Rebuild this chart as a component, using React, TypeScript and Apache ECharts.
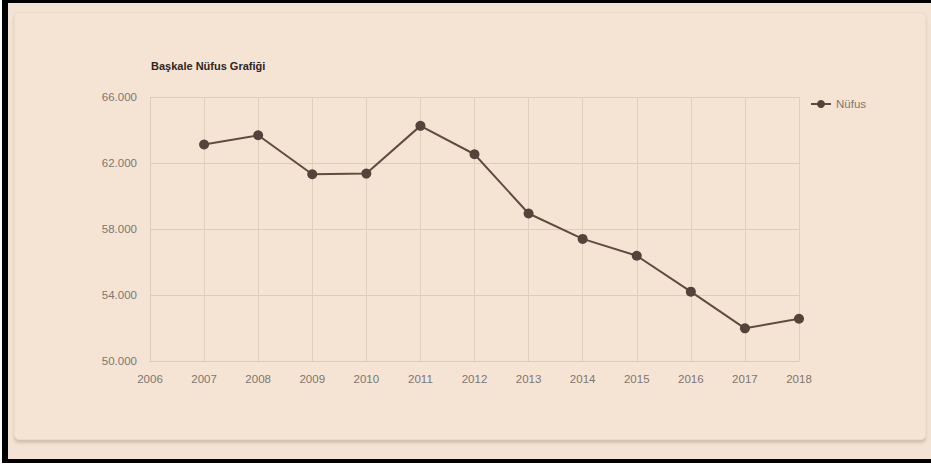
import React, { useEffect, useRef } from "react";
import * as echarts from "echarts";

const title = "Başkale Nüfus Grafiği";
const seriesName = "Nüfus";
const years = [2007, 2008, 2009, 2010, 2011, 2012, 2013, 2014, 2015, 2016, 2017, 2018];
const population = [63120, 63680, 61320, 61360, 64250, 62530, 58940, 57400, 56380, 54200, 51980, 52560];
const yMin = 50000;
const yMax = 66000;
const yStep = 4000;
const xMin = 2006;
const xMax = 2018;

const fmtThousands = (v: number) =>
  String(Math.round(v)).replace(/\B(?=(\d{3})+(?!\d))/g, ".");

export default function App() {
  const ref = useRef<HTMLDivElement>(null);
  useEffect(() => {
    document.body.style.margin = "0";
    if (!ref.current) return;
    const chart = echarts.init(ref.current, undefined, { renderer: "svg" });
    const font = "'Liberation Sans', Arial, sans-serif";
    chart.setOption({
      animation: false,
      title: {
        text: title,
        left: 146,
        top: 55,
        textStyle: { fontSize: 11, fontWeight: "bold", color: "#2e261f", fontFamily: font },
      },
      legend: {
        data: [seriesName],
        left: 805,
        top: 93,
        itemWidth: 20,
        itemHeight: 10,
        itemGap: 5,
        textStyle: { fontSize: 11.5, color: "#7d7670", fontFamily: font },
      },
      grid: { left: 150, right: 132, top: 97, bottom: 105 },
      xAxis: {
        type: "value",
        min: xMin,
        max: xMax,
        interval: 1,
        axisLine: { show: true, lineStyle: { color: "#dccbb8" } },
        axisTick: { show: false },
        splitLine: { show: true, lineStyle: { color: "#e0cfbd", width: 1 } },
        axisLabel: {
          formatter: (v: number) => String(v),
          color: "#7d7670",
          fontSize: 11.5,
          margin: 12,
          fontFamily: font,
        },
      },
      yAxis: {
        type: "value",
        min: yMin,
        max: yMax,
        interval: yStep,
        axisLine: { show: true, lineStyle: { color: "#dccbb8" } },
        axisTick: { show: false },
        splitLine: { show: true, lineStyle: { color: "#dccbb8", width: 1 } },
        axisLabel: {
          formatter: (v: number) => fmtThousands(v),
          color: "#7d7670",
          fontSize: 11.5,
          margin: 13,
          fontFamily: font,
        },
      },
      series: [
        {
          name: seriesName,
          type: "line",
          data: years.map((y, i) => [y, population[i]]),
          symbol: "circle",
          symbolSize: 10,
          lineStyle: { color: "#5f4c3e", width: 2 },
          itemStyle: { color: "#54433a" },
        },
      ],
    });
    return () => chart.dispose();
  }, []);

  return (
    <div
      style={{
        position: "fixed",
        left: 0,
        top: 0,
        width: 931,
        height: 466,
        background: "#ffffff",
        overflow: "hidden",
      }}
    >
      <div
        style={{
          position: "absolute",
          left: 2,
          top: 0,
          width: 925,
          height: 456,
          background: "#f3e3d4",
          border: "3px solid #000",
          borderLeftWidth: 6,
          borderBottomWidth: 4,
        }}
      />
      <div
        style={{
          position: "absolute",
          left: 14,
          top: 12,
          width: 910,
          height: 426,
          background: "#f5e4d4",
          borderRadius: 5,
          border: "1px solid #eadbcb",
          boxShadow: "0 3px 3px rgba(120,90,60,0.25)",
        }}
      />
      <div ref={ref} style={{ position: "absolute", left: 0, top: 0, width: 931, height: 466 }} />
    </div>
  );
}
